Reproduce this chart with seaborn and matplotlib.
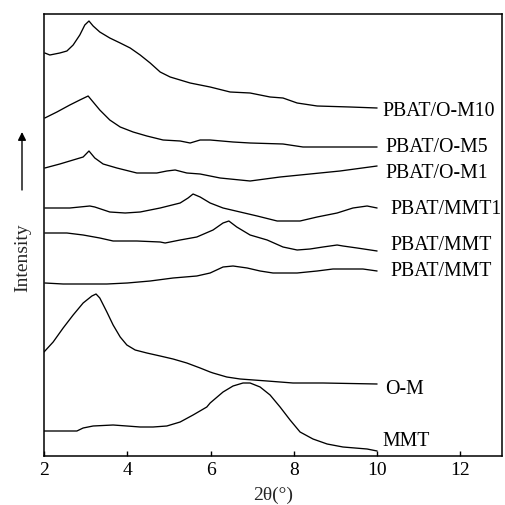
import matplotlib
matplotlib.use("Agg")
import matplotlib.pyplot as plt
import seaborn as sns
import pandas as pd

# ---- data (2theta in degrees, intensity in arbitrary units, stacked) ----
theta_om10 = [2.02, 2.14, 2.38, 2.55, 2.70, 2.86, 2.98, 3.08, 3.18, 3.34, 3.58, 3.83,
              4.07, 4.31, 4.55, 4.79, 5.03, 5.27, 5.51, 5.75, 5.99, 6.47, 6.95, 7.43,
              7.74, 8.08, 8.56, 9.35, 10.0]
int_om10 = [403, 401, 403, 405, 411, 421, 431, 435, 430, 424, 418, 413,
            408, 401, 393, 384, 379, 376, 373, 371, 369, 364, 363, 359,
            358, 353, 350, 349, 348]

theta_om5 = [2.02, 2.31, 2.62, 2.86, 3.06, 3.18, 3.34, 3.58, 3.83, 4.14, 4.47, 4.86,
             5.27, 5.51, 5.75, 5.99, 6.54, 6.95, 7.74, 8.22, 10.0]
int_om5 = [338, 344, 351, 356, 360, 354, 346, 336, 329, 324, 320, 316,
           315, 313, 316, 316, 314, 313, 312, 309, 309]

theta_om1 = [2.02, 2.38, 2.70, 2.94, 3.08, 3.22, 3.42, 3.75, 4.23, 4.71, 4.95, 5.15,
             5.43, 5.75, 6.23, 6.95, 7.67, 8.39, 9.11, 10.0]
int_om1 = [288, 292, 296, 299, 305, 298, 292, 288, 283, 283, 285, 286,
           283, 282, 278, 275, 279, 282, 285, 290]

theta_mmt1 = [2.02, 2.62, 3.10, 3.22, 3.58, 3.95, 4.31, 4.79, 5.27, 5.46, 5.58, 5.75,
              5.99, 6.30, 6.71, 7.12, 7.60, 8.15, 8.56, 9.04, 9.42, 9.76, 10.0]
int_mmt1 = [248, 248, 250, 249, 244, 243, 244, 248, 253, 258, 262, 259,
            253, 248, 244, 240, 235, 235, 239, 243, 248, 250, 248]

theta_mmt_a = [2.02, 2.55, 2.94, 3.34, 3.66, 4.23, 4.79, 4.91, 5.27, 5.67, 6.06, 6.30,
               6.44, 6.63, 6.95, 7.36, 7.74, 8.08, 8.39, 8.70, 9.04, 9.18, 9.52, 10.0]
int_mmt_a = [223, 223, 221, 218, 215, 215, 214, 213, 216, 219, 226, 233,
             235, 229, 221, 216, 209, 206, 207, 209, 211, 210, 208, 205]

theta_mmt_b = [2.02, 2.46, 3.51, 4.00, 4.55, 5.10, 5.67, 5.99, 6.30, 6.54, 6.88, 7.19,
               7.50, 8.08, 8.56, 8.94, 9.66, 10.0]
int_mmt_b = [173, 172, 172, 173, 175, 178, 180, 183, 189, 190, 188, 185,
             183, 183, 185, 187, 187, 185]

theta_om = [2.00, 2.22, 2.46, 2.70, 2.94, 3.15, 3.25, 3.34, 3.51, 3.66, 3.83, 3.99,
            4.19, 4.47, 4.79, 5.10, 5.43, 5.75, 5.99, 6.06, 6.39, 6.71, 7.36, 7.98,
            8.70, 10.0]
int_om = [104, 114, 128, 141, 153, 160, 162, 158, 144, 131, 119, 111,
          106, 103, 100, 97, 93, 88, 84, 83, 79, 77, 75, 73,
          73, 72]

theta_mmt = [2.00, 2.79, 2.94, 3.18, 3.66, 3.99, 4.31, 4.62, 4.95, 5.27, 5.58, 5.91,
             5.99, 6.30, 6.54, 6.78, 6.95, 7.19, 7.43, 7.67, 7.91, 8.15, 8.46, 8.80,
             9.18, 9.76, 10.0]
int_mmt = [25, 25, 28, 30, 31, 30, 29, 29, 30, 34, 41, 49,
           53, 64, 70, 73, 73, 69, 61, 49, 36, 24, 17, 12,
           9, 7, 5]

labels = ["PBAT/O-M10", "PBAT/O-M5", "PBAT/O-M1", "PBAT/MMT1",
          "PBAT/MMT", "PBAT/MMT", "O-M", "MMT"]

x_ticks = [2, 4, 6, 8, 10, 12]

series = [
    (theta_om10, int_om10),
    (theta_om5, int_om5),
    (theta_om1, int_om1),
    (theta_mmt1, int_mmt1),
    (theta_mmt_a, int_mmt_a),
    (theta_mmt_b, int_mmt_b),
    (theta_om, int_om),
    (theta_mmt, int_mmt),
]

# label anchor positions (2theta, intensity)
label_pos = [(10.12, 344), (10.21, 308), (10.21, 282), (10.31, 246),
             (10.31, 210), (10.31, 184), (10.19, 67), (10.14, 14)]

sns.set_theme(style="ticks")
plt.rcParams["font.family"] = ["Liberation Serif", "DejaVu Serif"]

fig = plt.figure(figsize=(5.05, 5.05), dpi=100)
ax = fig.add_axes([44 / 505, 1 - 456 / 505, 458 / 505, 442 / 505])

for tx, iy in series:
    df = pd.DataFrame({"two_theta": tx, "intensity": iy})
    sns.lineplot(data=df, x="two_theta", y="intensity", ax=ax, color="black",
                 linewidth=0.95, sort=False, estimator=None)

for lab, (lx, ly) in zip(labels, label_pos):
    ax.text(lx, ly, lab, fontsize=14.3, ha="left", va="center", color="black")

ax.set_xlim(2, 13)
ax.set_ylim(0, 442)
ax.set_xticks(x_ticks)
ax.set_xticklabels([str(t) for t in x_ticks])
ax.set_yticks([])
ax.tick_params(axis="x", direction="in", length=3.8, width=1.0, labelsize=14,
               pad=4, colors="black")
for sp in ax.spines.values():
    sp.set_visible(True)
    sp.set_linewidth(1.1)
    sp.set_color("black")

ax.set_xlabel("2θ(°)", fontsize=14, labelpad=6)
ax.set_ylabel("Intensity", fontsize=14)
ax.yaxis.set_label_coords(-0.028, 0.448)

# intensity arrow
ax.annotate("", xy=(22 / 505, 1 - 132 / 505), xytext=(22 / 505, 1 - 190 / 505),
            xycoords="figure fraction", textcoords="figure fraction",
            arrowprops=dict(arrowstyle="-|>", color="black", lw=1.0,
                            mutation_scale=12, shrinkA=0, shrinkB=0))

fig.savefig("out.png", dpi=100)
